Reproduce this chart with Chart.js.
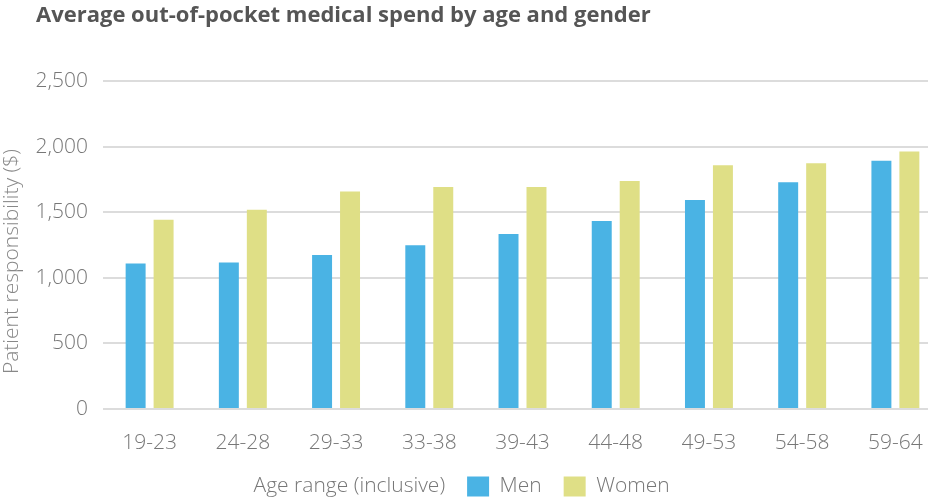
<!DOCTYPE html>
<html>
<head>
<meta charset="utf-8">
<script src="https://cdn.jsdelivr.net/npm/chart.js@4.4.1/dist/chart.umd.min.js"></script>
<style>
  html, body { margin: 0; padding: 0; background: #fff; overflow: hidden; }
  canvas { display: block; }
</style>
</head>
<body>
<canvas id="spendChart" width="942" height="507"></canvas>
<script>
const ageRanges = ["19-23", "24-28", "29-33", "33-38", "39-43", "44-48", "49-53", "54-58", "59-64"];
const menSpend = [1110, 1118, 1175, 1250, 1335, 1435, 1595, 1730, 1895];
const womenSpend = [1445, 1520, 1660, 1695, 1695, 1740, 1860, 1875, 1965];
const yTicks = [0, 500, 1000, 1500, 2000, 2500];

const chartTitle = "Average out-of-pocket medical spend by age and gender";
const xAxisTitle = "Age range (inclusive)";
const yAxisTitle = "Patient responsibility ($)";

const menColor = "#4ab3e4";
const womenColor = "#dfdf86";
const textGray = "#777777";
const blank = "rgba(0,0,0,0)";
const lightFont = { size: 21, weight: 300, family: "'Open Sans', sans-serif" };

const ctx = document.getElementById('spendChart');

new Chart(ctx, {
    type: 'bar',
    data: {
        labels: ageRanges,
        datasets: [
            { label: "Men", data: menSpend, backgroundColor: menColor },
            { label: "Women", data: womenSpend, backgroundColor: womenColor }
        ]
    },
    options: {
        responsive: false,
        animation: false,
        devicePixelRatio: 1,
        locale: 'en-US',
        categoryPercentage: 0.6,
        barPercentage: 0.714,
        layout: { padding: { left: 36, top: 0, right: 0, bottom: 0 } },
        font: { family: "'Open Sans', sans-serif" },
        plugins: {
            tooltip: { enabled: false },
            title: {
                display: true,
                text: chartTitle,
                align: 'start',
                color: '#555555',
                font: { size: 22, weight: 'bold', family: "'Open Sans', sans-serif" },
                padding: { top: 3, bottom: 52 }
            },
            legend: {
                position: 'bottom',
                onClick: () => {},
                labels: {
                    boxWidth: 22,
                    boxHeight: 20,
                    padding: 22,
                    color: textGray,
                    font: lightFont,
                    generateLabels: chart => [
                        { text: xAxisTitle, fillStyle: blank, strokeStyle: blank, lineWidth: 0, fontColor: textGray },
                        { text: "Men", fillStyle: menColor, strokeStyle: menColor, lineWidth: 0, fontColor: textGray, datasetIndex: 0 },
                        { text: "Women", fillStyle: womenColor, strokeStyle: womenColor, lineWidth: 0, fontColor: textGray, datasetIndex: 1 },
                        { text: "      ", fillStyle: blank, strokeStyle: blank, lineWidth: 0, fontColor: textGray }
                    ]
                }
            }
        },
        scales: {
            x: {
                grid: { display: false },
                border: { display: false },
                ticks: {
                    color: textGray,
                    padding: 13,
                    maxRotation: 0,
                    autoSkip: false,
                    font: lightFont
                },
                afterFit: scale => { scale.height = 45; }
            },
            y: {
                min: 0,
                max: yTicks[yTicks.length - 1],
                afterBuildTicks: scale => { scale.ticks = yTicks.map(v => ({ value: v })); },
                grid: { color: '#dcdcdc', lineWidth: 2, drawTicks: false },
                border: { display: false },
                ticks: {
                    color: textGray,
                    padding: 15,
                    font: lightFont
                },
                title: {
                    display: true,
                    text: yAxisTitle + "      ",
                    color: '#888888',
                    padding: { top: -37, bottom: 0 },
                    font: lightFont
                },
                afterFit: scale => { scale.width = 67; }
            }
        }
    }
});
</script>
</body>
</html>
